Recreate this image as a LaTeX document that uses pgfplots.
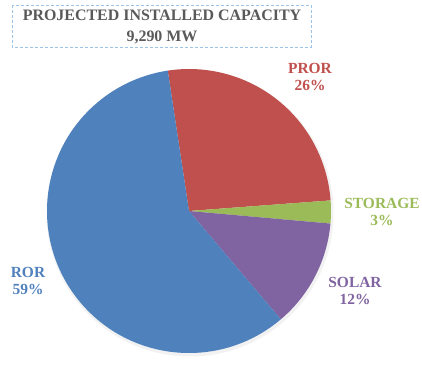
\documentclass[border=0pt]{standalone}
\usepackage{pgfplots}
\usepackage{pgfplotstable}
\pgfplotsset{compat=1.18}
\usepackage{fontspec}
\setmainfont{Liberation Serif}
\definecolor{cROR}{HTML}{4F81BD}
\definecolor{cPROR}{HTML}{C0504D}
\definecolor{cSTOR}{HTML}{9BBB59}
\definecolor{cSOL}{HTML}{8064A2}
\definecolor{ttl}{HTML}{595959}
\definecolor{boxc}{HTML}{9DC3E6}
\pgfplotstableread{
label value
PROR 26.2
STORAGE 2.6
SOLAR 12.4
ROR 58.8
}\piedata
\begin{document}
\begin{tikzpicture}
\pgfmathsetmacro\aA{98.6}
\pgfplotstablegetelem{0}{value}\of\piedata
\pgfmathsetmacro\aB{\aA-3.6*\pgfplotsretval}
\pgfplotstablegetelem{1}{value}\of\piedata
\pgfmathsetmacro\aC{\aB-3.6*\pgfplotsretval}
\pgfplotstablegetelem{2}{value}\of\piedata
\pgfmathsetmacro\aD{\aC-3.6*\pgfplotsretval}
\pgfplotstablegetelem{3}{value}\of\piedata
\pgfmathsetmacro\aE{\aD-3.6*\pgfplotsretval}
\begin{axis}[
  scale only axis, width=422bp, height=359bp,
  xmin=0, xmax=422, ymin=0, ymax=359,
  hide axis, clip=false,
]
\path (axis cs:0,0) rectangle (axis cs:422,359);
% soft shadow
\fill[black!5] (axis cs:190,146) circle[radius=143.5bp];
% slices
\fill[cPROR] (axis cs:189,148) -- ++(\aA:142bp) arc[start angle=\aA, end angle=\aB, radius=142bp] -- cycle;
\fill[cSTOR] (axis cs:189,148) -- ++(\aB:142bp) arc[start angle=\aB, end angle=\aC, radius=142bp] -- cycle;
\fill[cSOL] (axis cs:189,148) -- ++(\aC:142bp) arc[start angle=\aC, end angle=\aD, radius=142bp] -- cycle;
\fill[cROR] (axis cs:189,148) -- ++(\aD:142bp) arc[start angle=\aD, end angle=\aE, radius=142bp] -- cycle;
% labels
\tikzset{lab/.style={align=center, font=\bfseries\fontsize{15.5}{18}\selectfont, inner sep=0pt}}
\node[lab, text=cPROR] at (axis cs:310,282) {PROR\\26\%};
\node[lab, text=cSTOR] at (axis cs:382,147) {STORAGE\\3\%};
\node[lab, text=cSOL] at (axis cs:355,68) {SOLAR\\12\%};
\node[lab, text=cROR] at (axis cs:28,78) {ROR\\59\%};
% title box
\draw[boxc, line width=1bp, dash pattern=on 3bp off 2bp] (axis cs:12,354) rectangle (axis cs:311,312);
\node[align=center, text=ttl, font=\bfseries\fontsize{16}{21}\selectfont, inner sep=0pt] at (axis cs:162,332) {PROJECTED INSTALLED CAPACITY\\9,290 MW};
\end{axis}
\end{tikzpicture}
\end{document}
